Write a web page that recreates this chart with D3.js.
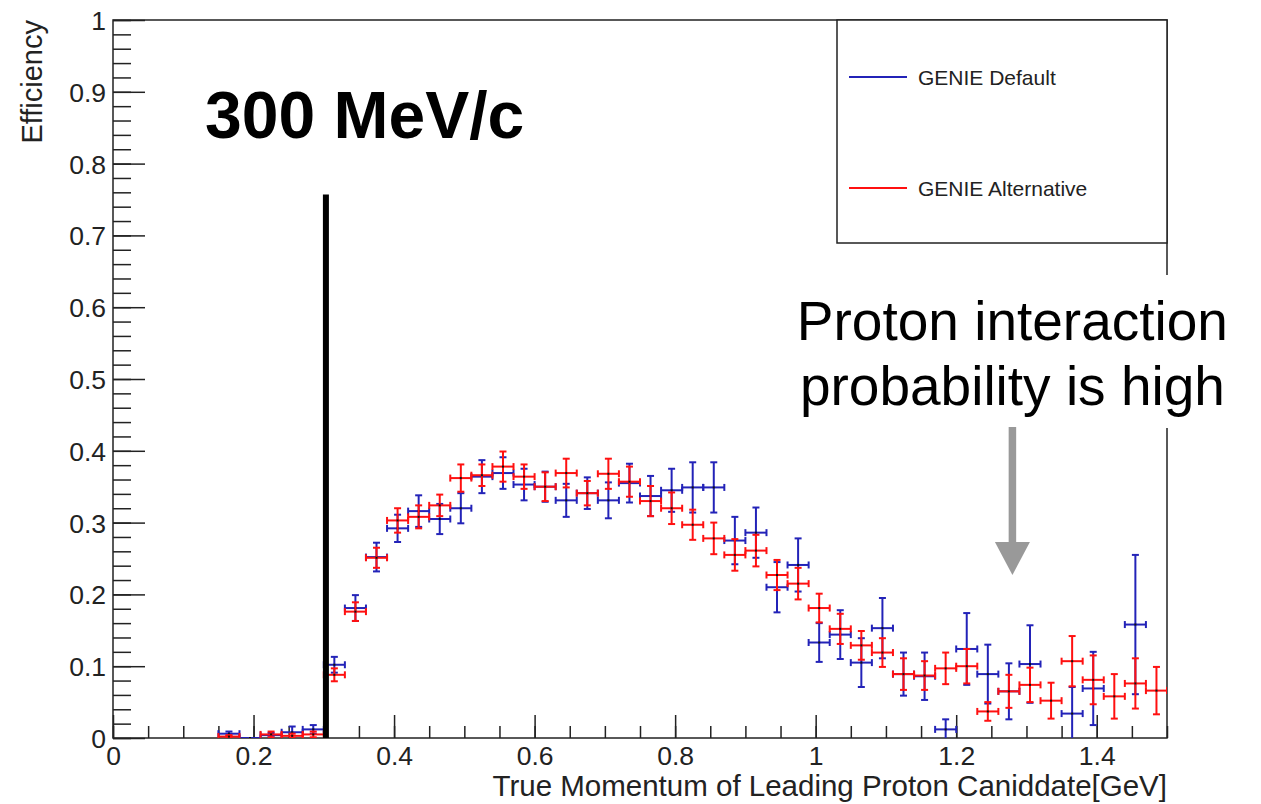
<!DOCTYPE html>
<html>
<head>
<meta charset="utf-8">
<script src="https://cdn.jsdelivr.net/npm/d3@7"></script>
<style>
  body { margin: 0; background: #fff; }
  text { font-family: "Liberation Sans", Arial, Helvetica, sans-serif; }
</style>
</head>
<body>
<div id="chart"></div>
<script>
// bin centres (GeV), bin width 0.03
var binCenters = [0.165,0.195,0.225,0.255,0.285,0.315,0.345,0.375,0.405,0.435,
  0.465,0.495,0.525,0.555,0.585,0.615,0.645,0.675,0.705,0.735,
  0.765,0.795,0.825,0.855,0.885,0.915,0.945,0.975,1.005,1.035,
  1.065,1.095,1.125,1.155,1.185,1.215,1.245,1.275,1.305,1.335,
  1.365,1.395,1.425,1.455,1.485];
var binWidth = 0.03;

// GENIE Default (blue)
var defaultEff = [0.006,0.000,0.004,0.008,0.012,0.102,0.181,0.252,0.292,0.316,
  0.305,0.320,0.364,0.369,0.353,0.350,0.331,0.341,0.331,0.355,
  0.337,0.345,0.349,0.349,0.275,0.286,0.210,0.241,0.133,0.144,
  0.105,0.153,0.089,0.086,0.012,0.124,0.089,0.065,0.103,null,
  0.034,0.069,null,0.158,null];
var defaultErr = [0.003,0,0.003,0.008,0.006,0.011,0.018,0.020,0.019,0.022,
  0.021,0.021,0.023,0.022,0.022,0.021,0.023,0.022,0.025,0.027,
  0.028,0.030,0.035,0.035,0.033,0.035,0.035,0.037,0.027,0.034,
  0.034,0.042,0.030,0.033,0.014,0.050,0.041,0.039,0.054,null,
  0.037,0.051,null,0.097,null];

// GENIE Alternative (red)
var altEff = [0.002,null,0.005,0.003,0.005,0.088,0.176,0.251,0.303,0.308,
  0.324,0.362,0.366,0.378,0.364,0.350,0.369,0.341,0.368,0.357,
  0.330,0.320,0.297,0.278,0.255,0.261,0.227,0.215,0.181,0.152,
  0.129,0.119,0.089,0.087,0.097,0.100,0.037,0.065,0.074,0.052,
  0.107,0.081,0.058,0.076,0.066];
var altErr = [0.002,null,0.004,0.003,0.004,0.009,0.013,0.014,0.017,0.016,
  0.015,0.019,0.015,0.021,0.017,0.020,0.020,0.017,0.021,0.021,
  0.021,0.022,0.021,0.022,0.022,0.022,0.021,0.022,0.020,0.021,
  0.020,0.020,0.022,0.020,0.022,0.024,0.013,0.023,0.024,0.025,
  0.035,0.034,0.031,0.035,0.033];

var xMajor = [0, 0.2, 0.4, 0.6, 0.8, 1, 1.2, 1.4];
var yMajor = [0, 0.1, 0.2, 0.3, 0.4, 0.5, 0.6, 0.7, 0.8, 0.9, 1];
var cutMomentum = 0.303;
var cutTop = 0.757;

var width = 1261, height = 804;
var svg = d3.select("#chart").append("svg")
    .attr("width", width).attr("height", height);

var x = d3.scaleLinear().domain([0, 1.5]).range([113, 1167]);
var y = d3.scaleLinear().domain([0, 1]).range([738, 20]);

svg.append("clipPath").attr("id", "plotclip")
  .append("rect")
    .attr("x", x(0)).attr("y", y(1))
    .attr("width", x(1.5) - x(0)).attr("height", y(0) - y(1));

// minor ticks
var xMinor = d3.range(0, 1.5001, 0.05).map(function(d){ return +d.toFixed(2); });
var yMinor = d3.range(0, 1.0001, 0.02).map(function(d){ return +d.toFixed(2); });

svg.append("g")
    .attr("transform", "translate(0," + y(0) + ")")
    .call(d3.axisBottom(x).tickValues(xMinor).tickSize(-12).tickFormat(""))
    .call(function(g){ g.select(".domain").remove(); });
var xAx = svg.append("g")
    .attr("transform", "translate(0," + y(0) + ")")
    .call(d3.axisBottom(x).tickValues(xMajor).tickSize(-23).tickPadding(8)
      .tickFormat(function(d){ return d3.format("")(d); }));
xAx.select(".domain").remove();

svg.append("g")
    .attr("transform", "translate(" + x(0) + ",0)")
    .call(d3.axisLeft(y).tickValues(yMinor).tickSize(-18).tickFormat(""))
    .call(function(g){ g.select(".domain").remove(); });
var yAx = svg.append("g")
    .attr("transform", "translate(" + x(0) + ",0)")
    .call(d3.axisLeft(y).tickValues(yMajor).tickSize(-32).tickPadding(7)
      .tickFormat(function(d){ return d3.format("")(d); }));
yAx.select(".domain").remove();

svg.selectAll(".tick line").attr("stroke", "#222").attr("stroke-width", 1.5);
svg.selectAll(".tick text")
    .attr("font-size", 26.5).attr("fill", "#222")
    .style("font-family", "'Liberation Sans', Arial, sans-serif");
yAx.selectAll(".tick text").attr("dy", "0.36em");

// frame
svg.append("rect")
    .attr("x", x(0)).attr("y", y(1))
    .attr("width", x(1.5) - x(0)).attr("height", y(0) - y(1))
    .attr("fill", "none").attr("stroke", "#222").attr("stroke-width", 1.5);

// axis titles
svg.append("text")
    .attr("x", x(1.5)).attr("y", 796)
    .attr("text-anchor", "end").attr("font-size", 29.5).attr("fill", "#222")
    .text("True Momentum of Leading Proton Caniddate[GeV]");
svg.append("text")
    .attr("transform", "translate(42," + y(1) + ") rotate(-90)")
    .attr("text-anchor", "end").attr("font-size", 29).attr("fill", "#222")
    .text("Efficiency");

// error-bar series
function drawSeries(vals, errs, color){
  var pts = binCenters.map(function(c, i){
    return {x: c, v: vals[i], e: errs[i]};
  }).filter(function(d){ return d.v !== null; });

  var g = svg.append("g")
      .attr("clip-path", "url(#plotclip)")
      .attr("stroke", color).attr("stroke-width", 2).attr("fill", "none");
  var cap = 3.5;
  var pg = g.selectAll("g.pt").data(pts).enter().append("g").attr("class", "pt");

  // horizontal bar over bin width with end ticks
  pg.append("line")
      .attr("x1", function(d){ return x(d.x - binWidth / 2); })
      .attr("x2", function(d){ return x(d.x + binWidth / 2); })
      .attr("y1", function(d){ return y(d.v); })
      .attr("y2", function(d){ return y(d.v); });
  pg.append("line")
      .attr("x1", function(d){ return x(d.x - binWidth / 2); })
      .attr("x2", function(d){ return x(d.x - binWidth / 2); })
      .attr("y1", function(d){ return y(d.v) - cap; })
      .attr("y2", function(d){ return y(d.v) + cap; });
  pg.append("line")
      .attr("x1", function(d){ return x(d.x + binWidth / 2); })
      .attr("x2", function(d){ return x(d.x + binWidth / 2); })
      .attr("y1", function(d){ return y(d.v) - cap; })
      .attr("y2", function(d){ return y(d.v) + cap; });

  // vertical error with caps
  var withErr = pg.filter(function(d){ return d.e > 0; });
  withErr.append("line")
      .attr("x1", function(d){ return x(d.x); })
      .attr("x2", function(d){ return x(d.x); })
      .attr("y1", function(d){ return y(d.v - d.e); })
      .attr("y2", function(d){ return y(d.v + d.e); });
  withErr.append("line")
      .attr("x1", function(d){ return x(d.x) - cap; })
      .attr("x2", function(d){ return x(d.x) + cap; })
      .attr("y1", function(d){ return y(d.v + d.e); })
      .attr("y2", function(d){ return y(d.v + d.e); });
  withErr.append("line")
      .attr("x1", function(d){ return x(d.x) - cap; })
      .attr("x2", function(d){ return x(d.x) + cap; })
      .attr("y1", function(d){ return y(d.v - d.e); })
      .attr("y2", function(d){ return y(d.v - d.e); });

  // small dark marker
  pg.append("rect")
      .attr("x", function(d){ return x(d.x) - 1; })
      .attr("y", function(d){ return y(d.v) - 1; })
      .attr("width", 2).attr("height", 2)
      .attr("stroke", "none").attr("fill", "#111");
}

drawSeries(defaultEff, defaultErr, "#2323b8");
drawSeries(altEff, altErr, "#ff1010");

// legend
var leg = svg.append("g");
leg.append("rect")
    .attr("x", 837).attr("y", 20).attr("width", 330).attr("height", 223)
    .attr("fill", "#fff").attr("stroke", "#222").attr("stroke-width", 1.5);
var legItems = [{label: "GENIE Default", color: "#2323b8", cy: 77},
                {label: "GENIE Alternative", color: "#ff1010", cy: 188}];
legItems.forEach(function(it){
  leg.append("line")
      .attr("x1", 849).attr("x2", 907).attr("y1", it.cy).attr("y2", it.cy)
      .attr("stroke", it.color).attr("stroke-width", 2);
  leg.append("text")
      .attr("x", 918).attr("y", it.cy).attr("dy", "0.36em")
      .attr("font-size", 21).attr("fill", "#222")
      .text(it.label);
});

// 300 MeV/c cut annotation
svg.append("line")
    .attr("x1", x(cutMomentum)).attr("x2", x(cutMomentum))
    .attr("y1", y(cutTop)).attr("y2", y(0))
    .attr("stroke", "#000").attr("stroke-width", 6);
svg.append("text")
    .attr("x", 205).attr("y", 138)
    .attr("font-size", 66).attr("font-weight", "bold").attr("fill", "#000")
    .text("300 MeV/c");

// proton interaction note
svg.append("rect")
    .attr("x", 780).attr("y", 275).attr("width", 465).attr("height", 153)
    .attr("fill", "#fff");
svg.append("text")
    .attr("x", x(1.28)).attr("y", 340).attr("text-anchor", "middle")
    .attr("font-size", 55).attr("fill", "#000")
    .text("Proton interaction");
svg.append("text")
    .attr("x", x(1.28)).attr("y", 405).attr("text-anchor", "middle")
    .attr("font-size", 55).attr("fill", "#000")
    .text("probability is high");

var ax = x(1.28);
svg.append("rect")
    .attr("x", ax - 3.75).attr("y", 427).attr("width", 7.5).attr("height", 116)
    .attr("fill", "#999");
svg.append("path")
    .attr("d", "M" + (ax - 17.5) + ",542L" + (ax + 17.5) + ",542L" + ax + ",575Z")
    .attr("fill", "#999");
</script>
</body>
</html>
